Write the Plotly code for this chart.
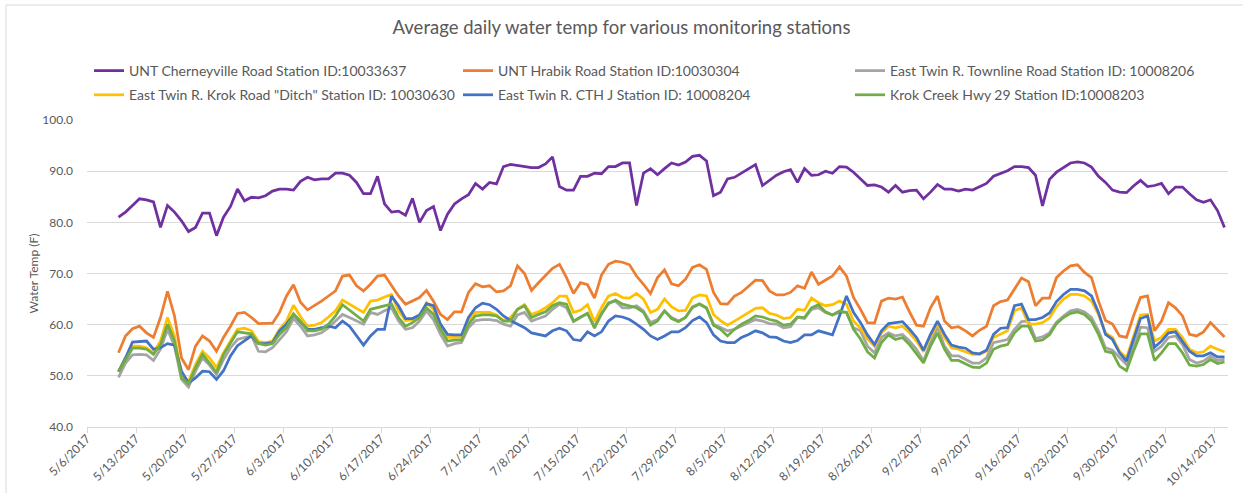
import pandas as pd
import plotly.graph_objects as go

# ---------------- data ----------------
start_date = "2017-05-10"   # first daily average
n_days = 159                # 5/10/2017 .. 10/15/2017

tick_labels = ["5/6/2017", "5/13/2017", "5/20/2017", "5/27/2017", "6/3/2017",
               "6/10/2017", "6/17/2017", "6/24/2017", "7/1/2017", "7/8/2017",
               "7/15/2017", "7/22/2017", "7/29/2017", "8/5/2017", "8/12/2017",
               "8/19/2017", "8/26/2017", "9/2/2017", "9/9/2017", "9/16/2017",
               "9/23/2017", "9/30/2017", "10/7/2017", "10/14/2017"]

series_names = [
    "UNT Cherneyville Road Station ID:10033637",
    "UNT Hrabik Road Station ID:10030304",
    "East Twin R. Townline Road Station ID: 10008206",
    'East Twin R. Krok Road "Ditch" Station ID: 10030630',
    "East Twin R. CTH J Station ID: 10008204",
    "Krok Creek Hwy 29 Station ID:10008203",
]

cherneyville = [
    81.0, 82.0, 83.3, 84.6, 84.4, 84.0, 79.0, 83.3, 82.0, 80.3, 78.2, 79.0, 81.8, 81.8, 77.4, 81.0,
    83.1, 86.5, 84.2, 84.9, 84.8, 85.2, 86.1, 86.5, 86.5, 86.3, 88.0, 88.8, 88.3, 88.5, 88.5, 89.6,
    89.6, 89.2, 87.8, 85.6, 85.6, 89.0, 83.6, 82.0, 82.2, 81.4, 84.7, 80.0, 82.3, 83.1, 78.4, 81.6,
    83.6, 84.6, 85.4, 87.6, 86.5, 87.8, 87.5, 90.9, 91.3, 91.1, 90.8, 90.7, 90.7, 91.4, 92.8, 87.0,
    86.3, 86.3, 89.0, 89.0, 89.6, 89.5, 90.9, 90.9, 91.6, 91.6, 83.3, 89.6, 90.5, 89.3, 90.5, 91.6,
    91.2, 91.8, 92.9, 93.1, 92.0, 85.2, 85.9, 88.5, 88.8, 89.6, 90.5, 91.3, 87.2, 88.2, 89.2, 89.9,
    90.3, 87.8, 90.5, 89.2, 89.3, 90.0, 89.6, 90.9, 90.8, 89.8, 88.4, 87.2, 87.3, 86.9, 85.9, 87.2,
    85.9, 86.2, 86.3, 84.6, 85.9, 87.4, 86.5, 86.5, 86.1, 86.5, 86.3, 87.0, 87.6, 89.0, 89.6, 90.1,
    90.9, 90.9, 90.7, 89.2, 83.2, 88.4, 89.8, 90.7, 91.6, 91.8, 91.6, 90.8, 89.0, 87.8, 86.3, 85.9,
    85.8, 87.1, 88.2, 87.0, 87.2, 87.6, 85.6, 86.9, 86.9, 85.6, 84.4, 83.9, 84.4, 82.3, 79.0]

hrabik = [
    54.5, 57.8, 59.2, 59.7, 58.4, 57.5, 61.4, 66.5, 61.7, 53.5, 51.2, 55.8, 57.8, 56.8, 54.8, 57.5,
    59.7, 62.2, 62.4, 61.4, 60.2, 60.3, 60.3, 62.4, 65.6, 67.8, 64.4, 62.9, 63.7, 64.6, 65.6, 66.6,
    69.5, 69.7, 67.6, 66.6, 67.9, 69.5, 69.7, 67.6, 65.6, 64.0, 64.6, 65.3, 66.7, 64.6, 62.0, 61.0,
    62.5, 62.5, 66.3, 68.0, 67.4, 67.6, 66.4, 66.6, 67.6, 71.5, 70.0, 66.7, 68.2, 69.5, 71.0, 71.8,
    69.2, 66.1, 68.2, 67.8, 65.2, 69.7, 71.8, 72.4, 72.2, 71.7, 69.5, 67.9, 66.1, 69.2, 70.7, 68.0,
    67.6, 68.9, 71.2, 71.7, 70.8, 66.3, 64.1, 64.0, 65.6, 66.3, 67.6, 68.7, 68.6, 66.6, 65.8, 65.8,
    66.3, 67.6, 67.1, 70.3, 67.9, 68.7, 69.5, 71.3, 69.5, 65.3, 63.0, 60.4, 60.3, 64.6, 65.2, 65.0,
    65.4, 62.5, 59.9, 59.7, 63.3, 65.6, 60.7, 59.4, 59.6, 58.8, 57.8, 58.9, 59.7, 63.7, 64.5, 64.8,
    66.9, 69.1, 68.4, 63.7, 65.2, 65.2, 69.2, 70.5, 71.5, 71.7, 70.2, 69.2, 64.6, 60.8, 60.1, 57.8,
    57.5, 61.7, 65.3, 65.6, 58.8, 60.7, 64.3, 63.3, 61.7, 58.1, 57.8, 58.6, 60.4, 59.1, 57.6]

townline = [
    49.7, 52.5, 54.1, 54.2, 54.1, 53.0, 55.2, 59.1, 55.8, 49.3, 47.8, 50.9, 53.5, 52.1, 50.3, 53.2,
    55.5, 57.1, 57.5, 57.8, 54.8, 54.7, 55.5, 57.1, 58.6, 61.2, 59.7, 57.8, 58.0, 58.4, 59.4, 60.7,
    62.0, 61.4, 60.7, 60.1, 62.4, 62.0, 62.7, 63.3, 60.7, 59.1, 59.4, 60.7, 62.7, 61.0, 58.1, 55.8,
    56.3, 56.5, 59.4, 60.8, 61.0, 61.0, 60.8, 60.1, 59.7, 61.9, 62.4, 60.7, 61.2, 61.7, 63.0, 64.0,
    63.3, 60.6, 61.4, 62.2, 59.7, 62.0, 64.3, 64.6, 63.3, 63.3, 63.7, 62.7, 60.4, 61.0, 62.7, 61.4,
    60.7, 61.4, 63.3, 64.0, 63.2, 60.1, 59.4, 58.8, 59.1, 59.7, 60.4, 61.0, 60.7, 60.2, 60.1, 59.4,
    59.6, 61.4, 61.2, 63.0, 63.3, 62.4, 61.9, 62.4, 62.4, 59.4, 58.8, 55.8, 54.5, 57.5, 58.4, 57.8,
    58.1, 56.8, 55.2, 52.9, 56.5, 59.5, 55.8, 53.9, 53.9, 53.2, 52.5, 52.5, 53.5, 56.5, 56.8, 57.1,
    59.1, 60.6, 60.7, 57.3, 57.6, 58.4, 60.5, 61.7, 62.7, 63.0, 62.5, 61.4, 58.8, 55.5, 55.0, 53.5,
    52.2, 55.5, 59.5, 59.4, 54.8, 55.8, 57.5, 57.8, 56.1, 53.2, 52.5, 52.9, 53.9, 53.0, 53.2]

krok_ditch = [
    50.8, 53.5, 55.8, 55.8, 55.5, 54.5, 56.8, 61.4, 57.8, 50.3, 48.9, 52.2, 54.8, 53.5, 51.6, 54.5,
    56.8, 59.1, 59.3, 58.8, 56.7, 56.5, 56.8, 59.1, 60.7, 63.8, 61.6, 59.7, 59.9, 60.4, 61.5, 62.7,
    64.8, 64.0, 63.3, 62.4, 64.6, 64.8, 65.4, 65.9, 62.7, 60.8, 61.0, 61.4, 64.3, 63.0, 60.1, 57.5,
    57.5, 57.5, 60.7, 62.4, 62.4, 62.4, 61.9, 60.8, 61.4, 63.0, 63.9, 62.0, 62.5, 63.3, 64.3, 65.6,
    65.6, 62.4, 62.8, 63.9, 60.6, 63.3, 65.6, 66.1, 65.3, 65.2, 66.1, 65.0, 62.4, 63.0, 65.0, 63.5,
    62.7, 62.8, 65.2, 65.8, 65.6, 62.0, 60.8, 59.9, 60.7, 61.5, 62.4, 63.2, 63.3, 62.2, 61.9, 61.2,
    61.4, 63.0, 62.8, 65.2, 64.3, 63.7, 63.9, 64.6, 64.0, 60.7, 59.3, 57.2, 55.8, 58.4, 59.7, 59.4,
    59.7, 58.4, 56.8, 54.7, 57.6, 60.2, 57.5, 55.5, 55.2, 54.7, 54.2, 54.2, 54.8, 57.5, 58.2, 58.8,
    62.7, 63.3, 60.1, 60.1, 60.4, 61.3, 63.5, 65.0, 65.9, 65.9, 65.6, 64.6, 62.0, 58.4, 57.5, 54.8,
    53.5, 57.5, 61.9, 62.0, 56.8, 57.5, 59.1, 59.1, 57.5, 55.2, 54.5, 54.7, 55.8, 55.2, 54.7]

cth_j = [
    50.8, 53.5, 56.6, 56.7, 56.8, 55.2, 55.5, 56.3, 56.0, 50.9, 48.6, 49.6, 50.9, 50.8, 49.3, 51.0,
    53.9, 55.9, 56.8, 57.8, 56.3, 56.3, 56.5, 58.8, 60.1, 62.0, 60.5, 59.1, 59.1, 59.4, 59.7, 59.4,
    60.7, 59.7, 57.8, 56.0, 57.8, 59.1, 59.1, 65.6, 63.7, 61.2, 61.2, 61.9, 64.1, 63.7, 60.1, 58.1,
    58.0, 58.0, 61.4, 63.3, 64.2, 63.9, 63.0, 61.7, 60.8, 60.1, 59.4, 58.4, 58.1, 57.8, 58.8, 59.3,
    58.8, 57.1, 56.9, 58.6, 57.8, 58.6, 60.7, 61.7, 61.5, 61.0, 60.1, 59.1, 57.8, 57.1, 57.8, 58.6,
    58.6, 59.4, 60.8, 61.5, 60.4, 58.0, 56.8, 56.5, 56.5, 57.5, 58.1, 58.8, 58.4, 57.6, 57.5, 56.8,
    56.5, 56.9, 58.0, 58.0, 58.8, 58.4, 58.0, 61.7, 65.6, 62.4, 60.4, 58.0, 56.1, 58.8, 60.2, 60.4,
    60.6, 59.1, 57.5, 55.0, 58.1, 60.7, 58.1, 56.0, 55.6, 55.4, 54.5, 54.3, 55.0, 58.1, 59.3, 59.4,
    63.7, 64.0, 61.0, 61.0, 61.4, 62.3, 64.5, 65.9, 66.9, 66.9, 66.6, 65.6, 62.4, 58.1, 57.1, 54.5,
    52.9, 57.1, 61.2, 61.7, 55.6, 56.8, 58.4, 58.6, 56.8, 54.8, 53.9, 53.9, 54.5, 53.7, 53.7]

krok_creek = [
    50.8, 53.2, 55.4, 55.4, 55.2, 54.2, 56.1, 60.1, 56.8, 49.6, 48.4, 51.6, 54.2, 52.5, 50.6, 54.2,
    56.3, 58.6, 58.4, 58.2, 56.3, 56.0, 56.3, 58.1, 59.4, 62.1, 60.7, 58.8, 58.8, 59.1, 60.1, 61.7,
    63.9, 62.8, 61.7, 60.7, 63.0, 63.3, 63.7, 64.0, 61.4, 59.7, 60.4, 61.4, 63.3, 62.0, 59.1, 56.8,
    57.0, 57.0, 60.1, 61.7, 61.9, 61.9, 61.7, 60.7, 60.7, 63.0, 63.7, 61.4, 62.0, 62.5, 63.7, 64.3,
    64.0, 60.7, 61.5, 62.2, 59.3, 62.2, 64.1, 64.8, 64.0, 63.7, 63.3, 62.4, 59.9, 60.7, 62.7, 61.2,
    60.6, 61.4, 63.5, 64.1, 63.3, 59.9, 59.1, 57.8, 59.1, 60.1, 60.8, 61.7, 61.5, 61.0, 60.7, 59.9,
    60.1, 61.5, 61.4, 63.3, 63.9, 62.5, 61.9, 62.7, 62.4, 59.1, 57.2, 54.7, 53.5, 56.5, 58.0, 57.1,
    57.5, 56.1, 54.2, 52.5, 55.8, 58.4, 55.2, 53.0, 53.0, 52.4, 51.7, 51.6, 52.5, 55.2, 55.8, 56.1,
    58.4, 59.7, 59.7, 56.8, 57.0, 58.0, 60.2, 61.4, 62.2, 62.5, 62.0, 60.7, 58.1, 54.8, 54.5, 51.9,
    51.0, 54.8, 58.2, 58.2, 53.0, 54.5, 56.3, 56.3, 54.5, 52.1, 51.9, 52.2, 53.2, 52.4, 52.7]

series_values = [cherneyville, hrabik, townline, krok_ditch, cth_j, krok_creek]
series_colors = ["#7030A0", "#ED7D31", "#A5A5A5", "#FFC000", "#4472C4", "#70AD47"]
series_legend = ["legend", "legend2", "legend3", "legend", "legend2", "legend3"]

# ---------------- figure ----------------
# daily averages are drawn at the middle of each day (Excel date axis style)
dates = pd.date_range(start_date, periods=n_days, freq="D") + pd.Timedelta(hours=12)
tick_vals = [pd.to_datetime(t, format="%m/%d/%Y") for t in tick_labels]

FONT = "Lato, 'Open Sans', sans-serif"
GRAY_TXT = "#595959"
GRID = "#d9d9d9"

fig = go.Figure()
for name, vals, col, lg in zip(series_names, series_values, series_colors, series_legend):
    fig.add_trace(go.Scatter(
        x=dates, y=vals, mode="lines", name=name,
        line=dict(color=col, width=2.75),
        legend=lg, legendgroup=name,
    ))

W, H = 1243, 493
L, R, T, B = 87, 15, 120, 66
pw, ph = W - L - R, H - T - B


def px_x(px):
    return (px - L) / pw


def px_y(py):
    return (H - B - py) / ph


legend_common = dict(
    orientation="v", xanchor="left", yanchor="top", y=px_y(55),
    font=dict(family=FONT, size=14, color=GRAY_TXT),
    bgcolor="rgba(0,0,0,0)", borderwidth=0, tracegroupgap=3,
    itemwidth=30,
)

fig.update_layout(
    width=W, height=H,
    margin=dict(l=L, r=R, t=T, b=B, autoexpand=False),
    paper_bgcolor="white", plot_bgcolor="white",
    font=dict(family=FONT, color=GRAY_TXT),
    title=dict(
        text="Average daily water temp for various monitoring stations",
        x=0.5, xref="container", xanchor="center",
        y=1 - 28 / H, yref="container", yanchor="middle",
        font=dict(family=FONT, size=18.5, color=GRAY_TXT),
    ),
    showlegend=True,
    legend=dict(x=px_x(89), **legend_common),
    legend2=dict(x=px_x(458), **legend_common),
    legend3=dict(x=px_x(850), **legend_common),
    xaxis=dict(
        type="date",
        range=[pd.Timestamp("2017-05-06"), pd.Timestamp("2017-10-16")],
        tickmode="array", tickvals=tick_vals, ticktext=tick_labels,
        tickangle=-45, tickfont=dict(family=FONT, size=12, color=GRAY_TXT),
        ticks="outside", ticklen=5, tickcolor=GRID, tickwidth=1,
        ticklabelstandoff=-6,
        showline=True, linecolor=GRID, linewidth=1,
        showgrid=False, zeroline=False, automargin=False,
    ),
    yaxis=dict(
        range=[40, 100], dtick=10, tickformat=".1f",
        tickfont=dict(family=FONT, size=12, color=GRAY_TXT),
        showgrid=True, gridcolor=GRID, gridwidth=1,
        zeroline=False, showline=False, ticks="", ticklabelstandoff=13,
        title=dict(text="Water Temp (F)", standoff=1,
                   font=dict(family=FONT, size=12, color=GRAY_TXT)),
        automargin=False,
    ),
    shapes=[dict(
        type="rect", xref="paper", yref="paper",
        x0=px_x(6), x1=px_x(1260), y0=px_y(510), y1=px_y(5),
        line=dict(color=GRID, width=1), fillcolor="rgba(0,0,0,0)", layer="below",
    )],
)

# remove the browser's default 8px body margin so the figure sits at (0, 0)
fig.write_html("out.html",
               config={"displayModeBar": False},
               post_script="document.body.style.margin='0px';document.body.style.overflow='hidden';")
